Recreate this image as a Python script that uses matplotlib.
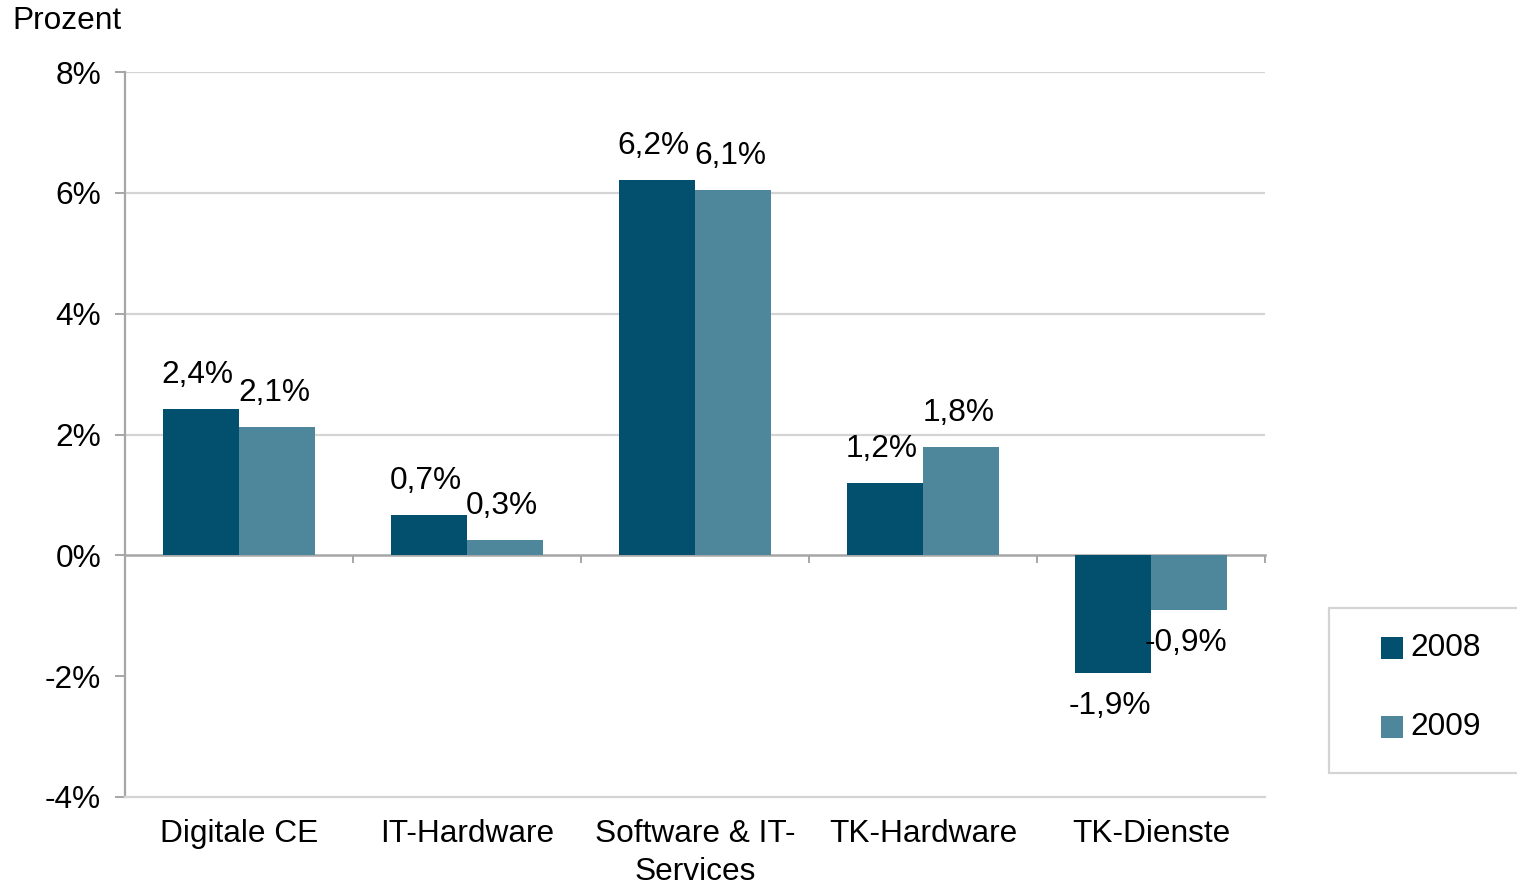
import matplotlib
matplotlib.use("Agg")
import matplotlib.pyplot as plt
from matplotlib.patches import Rectangle
import numpy as np

plt.rcParams['font.family'] = ['Liberation Sans', 'DejaVu Sans']

categories = ["Digitale CE", "IT-Hardware", "Software & IT-\nServices", "TK-Hardware", "TK-Dienste"]
series_names = ["2008", "2009"]
values_2008 = [2.43, 0.66, 6.22, 1.19, -1.94]
values_2009 = [2.12, 0.26, 6.05, 1.80, -0.91]
labels_2008 = ["2,4%", "0,7%", "6,2%", "1,2%", "-1,9%"]
labels_2009 = ["2,1%", "0,3%", "6,1%", "1,8%", "-0,9%"]
yticks = [-4, -2, 0, 2, 4, 6, 8]
ytick_labels = ["-4%", "-2%", "0%", "2%", "4%", "6%", "8%"]
colors = ["#03506E", "#4E879B"]

W, H = 1517, 885
fig = plt.figure(figsize=(W / 100, H / 100), dpi=100)
ax = fig.add_axes([125 / W, 88 / H, (1265 - 125) / W, 725 / H])

FS = 22.8
x = np.arange(len(categories))
bw = 0.335
ax.bar(x - bw / 2, values_2008, width=bw, color=colors[0], zorder=3)
ax.bar(x + bw / 2, values_2009, width=bw, color=colors[1], zorder=3)

for vals, labs, off in ((values_2008, labels_2008, -bw / 2), (values_2009, labels_2009, bw / 2)):
    for xi, v, t in zip(x, vals, labs):
        dy = 34 if v >= 0 else -33
        ax.annotate(t, (xi + off, v), xytext=(-3, dy), textcoords='offset pixels',
                    ha='center', va='center', fontsize=FS, color='black', zorder=5)

ax.set_xlim(-0.5, len(categories) - 0.5)
ax.set_ylim(-4, 8)
ax.set_yticks(yticks)
ax.set_yticklabels(ytick_labels, fontsize=FS)
ax.tick_params(axis='y', length=7.2, width=1.4, color='#A6A6A6', pad=10)
ax.set_xticks(x)
ax.set_xticklabels(categories, fontsize=FS, linespacing=1.35)
ax.tick_params(axis='x', length=0, pad=16)

for yv in yticks[3:]:
    ax.axhline(yv, color='#D4D4D4', lw=1.6, zorder=1)

for s in ('top', 'right'):
    ax.spines[s].set_visible(False)
ax.spines['left'].set_color('#A6A6A6')
ax.spines['left'].set_linewidth(1.6)
ax.spines['bottom'].set_color('#D4D4D4')
ax.spines['bottom'].set_linewidth(1.6)

sec = ax.secondary_xaxis(1 / 3)
sec.set_xticks(np.arange(len(categories) + 1) - 0.5)
sec.set_xticklabels([])
sec.tick_params(axis='x', direction='out', length=6, width=1.4, color='#A6A6A6')
sec.spines['bottom'].set_color('#A6A6A6')
sec.spines['bottom'].set_linewidth(1.8)
sec.spines['bottom'].set_zorder(4)

fig.text(12 / W, 1 - 21 / H, "Prozent", fontsize=FS, ha='left', va='center')

# legend
def fx(px):
    return px / W

def fy(py):
    return 1 - py / H

fig.add_artist(Rectangle((fx(1329), fy(773)), fx(1540) - fx(1329), fy(608) - fy(773),
                         transform=fig.transFigure, facecolor='white', edgecolor='#D4D4D4', lw=1.6))
for name, c, cy in zip(series_names, colors, (648, 727)):
    fig.add_artist(Rectangle((fx(1381), fy(cy + 11)), fx(22), 22 / H,
                             transform=fig.transFigure, facecolor=c, edgecolor='none'))
    fig.text(fx(1410), fy(cy), name, fontsize=FS, ha='left', va='center')

fig.savefig("out.png", dpi=100)
